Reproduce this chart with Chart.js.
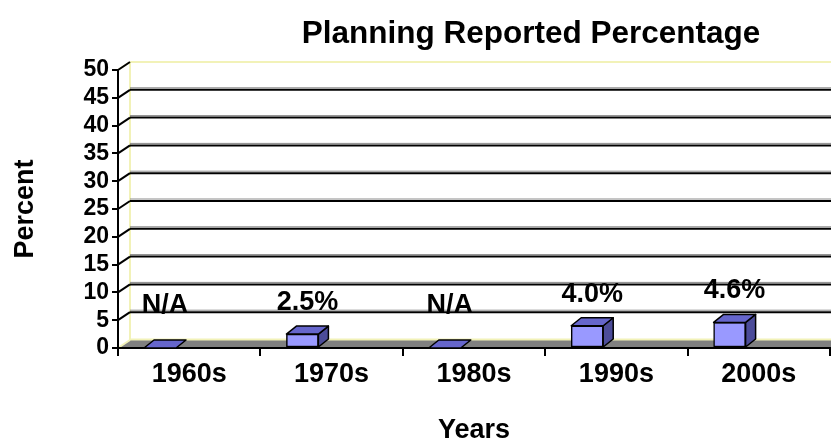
<!DOCTYPE html>
<html><head><meta charset="utf-8">
<script src="https://cdn.jsdelivr.net/npm/chart.js@4.4.1/dist/chart.umd.min.js"></script>
<style>html,body{margin:0;padding:0;background:#fff;}canvas{display:block;}</style>
</head><body>
<canvas id="c" width="831" height="444"></canvas>
<script>
// ---- data ----
const categories = ['1960s', '1970s', '1980s', '1990s', '2000s'];
const values = [0, 2.5, 0, 4.0, 4.6];
const valueLabels = ['N/A', '2.5%', 'N/A', '4.0%', '4.6%'];
const yTickValues = [0, 5, 10, 15, 20, 25, 30, 35, 40, 45, 50];
const chartTitle = 'Planning Reported Percentage';
const xTitle = 'Years';
const yTitle = 'Percent';

// ---- style ----
const FONT = '"Liberation Sans", Arial, Helvetica, sans-serif';
const WALL_DX = 12, WALL_DY = 8;   // depth of back wall
const BAR_DX = 10, BAR_DY = 8;     // depth of bars
const BAR_FRONT = '#9999FF', BAR_TOP = '#6666CC', BAR_SIDE = '#4C4C99';
const WALL_EDGE = '#F2F2B8', FLOOR = '#808080';

function poly(ctx, pts, fill, stroke, lw) {
  ctx.beginPath();
  ctx.moveTo(pts[0][0], pts[0][1]);
  for (let i = 1; i < pts.length; i++) ctx.lineTo(pts[i][0], pts[i][1]);
  ctx.closePath();
  if (fill) { ctx.fillStyle = fill; ctx.fill(); }
  if (stroke) { ctx.strokeStyle = stroke; ctx.lineWidth = lw || 1; ctx.lineJoin = 'round'; ctx.stroke(); }
}
function line(ctx, x1, y1, x2, y2, color, lw) {
  ctx.beginPath(); ctx.moveTo(x1, y1); ctx.lineTo(x2, y2);
  ctx.strokeStyle = color; ctx.lineWidth = lw; ctx.stroke();
}

const excel3d = {
  id: 'excel3d',
  beforeDraw(chart) {
    const {ctx, chartArea: {left: L}, scales: {y}} = chart;
    const W = chart.width + 20;
    const vMin = yTickValues[0], vMax = yTickValues[yTickValues.length - 1];
    const y0 = y.getPixelForValue(vMin), yT = y.getPixelForValue(vMax);
    ctx.save();
    // floor
    poly(ctx, [[L, y0], [L + WALL_DX, y0 - WALL_DY], [W, y0 - WALL_DY], [W, y0]], FLOOR);
    // wall edges
    line(ctx, L + WALL_DX, yT - WALL_DY, W, yT - WALL_DY, WALL_EDGE, 2);
    line(ctx, L + WALL_DX, yT - WALL_DY, L + WALL_DX, y0 - WALL_DY, WALL_EDGE, 2);
    line(ctx, L + WALL_DX, y0 - WALL_DY - 0.5, W, y0 - WALL_DY - 0.5, WALL_EDGE, 2);
    line(ctx, L, yT, L + WALL_DX, yT - WALL_DY, WALL_EDGE, 2);
    line(ctx, L, y0, L + WALL_DX, y0 - WALL_DY, WALL_EDGE, 2);
    // gridlines on back wall
    yTickValues.forEach(v => {
      if (v === vMin || v === vMax) return;
      const gy = y.getPixelForValue(v) - WALL_DY;
      line(ctx, L + WALL_DX, gy - 2, W, gy - 2, '#8a8a8a', 1);
      line(ctx, L + WALL_DX, gy, W, gy, '#000', 2);
    });
    // connectors from axis ticks to wall
    yTickValues.forEach(v => {
      if (v === vMin) return;
      const ty = y.getPixelForValue(v);
      line(ctx, L, ty, L + WALL_DX, ty - WALL_DY, '#000', 2);
    });
    ctx.restore();
  },
  afterDatasetsDraw(chart) {
    const {ctx} = chart;
    const y = chart.scales.y;
    const meta = chart.getDatasetMeta(0);
    ctx.save();
    meta.data.forEach((bar, i) => {
      const {x, y: yt, base, width} = bar.getProps(['x', 'y', 'base', 'width'], true);
      const xl = x - width / 2, xr = x + width / 2;
      if (base - yt > 0.5) {
        poly(ctx, [[xr, yt], [xr + BAR_DX, yt - BAR_DY], [xr + BAR_DX, base - BAR_DY], [xr, base]], BAR_SIDE, '#000', 1.5);
      }
      poly(ctx, [[xl, yt], [xl + BAR_DX, yt - BAR_DY], [xr + BAR_DX, yt - BAR_DY], [xr, yt]], BAR_TOP, '#000', 1.5);
    });
    // value labels
    ctx.fillStyle = '#000';
    ctx.font = 'bold 27px ' + FONT;
    ctx.textAlign = 'center';
    ctx.textBaseline = 'alphabetic';
    meta.data.forEach((bar, i) => {
      const ly = y.getPixelForValue(Math.max(values[i], 2)) - 24;
      ctx.fillText(valueLabels[i], bar.x + BAR_DX / 2, ly);
    });
    ctx.restore();
  },
  afterDraw(chart) {
    const {ctx} = chart;
    ctx.save();
    ctx.fillStyle = '#000';
    ctx.font = 'bold 31.5px ' + FONT;
    ctx.textAlign = 'center';
    ctx.textBaseline = 'alphabetic';
    ctx.fillText(chartTitle, 531, 43);
    ctx.restore();
  }
};

const tickFont = {family: FONT, weight: 'bold', size: 23};
const labelFont = {family: FONT, weight: 'bold', size: 27};

new Chart(document.getElementById('c'), {
  type: 'bar',
  data: {
    labels: categories,
    datasets: [{
      data: values.map((v, i) => ({x: i, y: v})),
      xAxisID: 'xb',
      backgroundColor: BAR_FRONT,
      borderColor: '#000',
      borderWidth: 1.5,
      borderSkipped: false,
      barThickness: 32
    }]
  },
  options: {
    responsive: false,
    animation: false,
    devicePixelRatio: 1,
    layout: {padding: {top: 70, bottom: 0, left: 0, right: 1}},
    plugins: {legend: {display: false}, tooltip: {enabled: false}, title: {display: false}},
    scales: {
      x: {
        type: 'category',
        offset: true,
        grid: {offset: true, drawOnChartArea: false, drawTicks: true, tickLength: 8, color: '#000', lineWidth: 2},
        border: {display: true, color: '#000', width: 2},
        ticks: {color: '#000', font: labelFont, padding: 2, maxRotation: 0, autoSkip: false},
        title: {display: true, text: xTitle, color: '#000', font: labelFont, padding: {top: 0, bottom: -3}},
        afterFit(s) { s.height = 96; }
      },
      xb: {
        type: 'linear',
        display: false,
        offset: false,
        min: -0.295,
        max: 4.705
      },
      y: {
        min: yTickValues[0],
        max: yTickValues[yTickValues.length - 1],
        afterBuildTicks(s) { s.ticks = yTickValues.map(v => ({value: v})); },
        ticks: {color: '#000', font: tickFont, padding: 3, autoSkip: false},
        grid: {drawOnChartArea: false, drawTicks: true, tickLength: 6, color: '#000', lineWidth: 2},
        border: {display: true, color: '#000', width: 2},
        title: {display: true, text: yTitle, color: '#000', font: labelFont, padding: {top: 9, bottom: 0}},
        afterFit(s) { s.width = 118; }
      }
    }
  },
  plugins: [excel3d]
});
</script>
</body></html>
